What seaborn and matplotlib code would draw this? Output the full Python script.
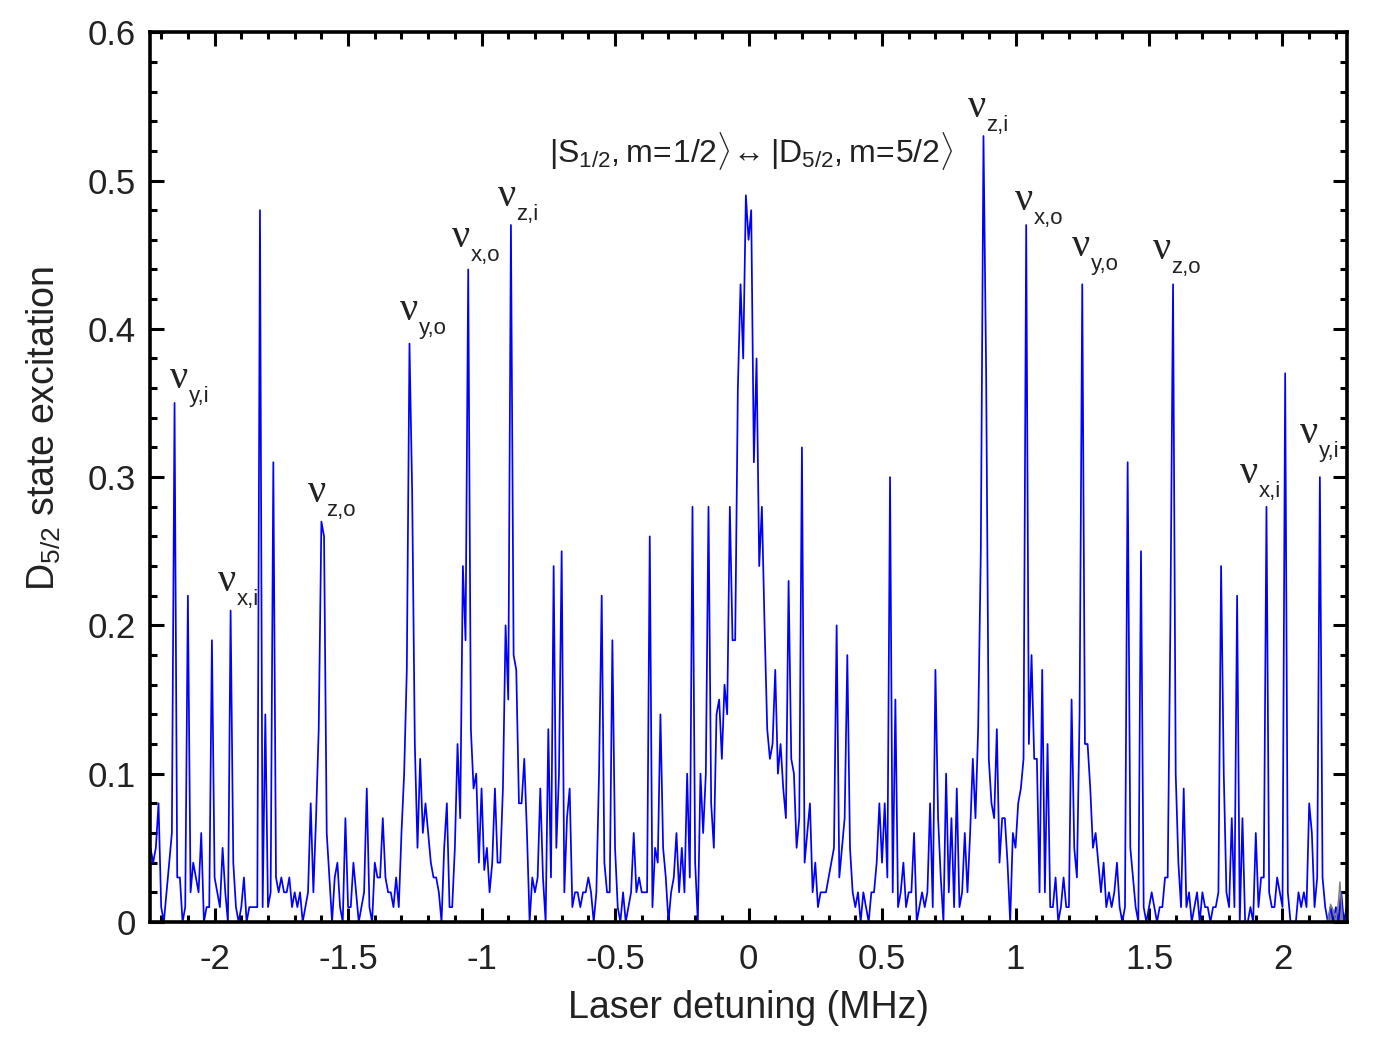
import numpy as np
import pandas as pd
import matplotlib
matplotlib.use("Agg")
import matplotlib.pyplot as plt
import seaborn as sns
from matplotlib.ticker import MultipleLocator, FuncFormatter

# ---------------- data ----------------
det_start, det_stop, n_points = -2.24, 2.24, 449   # laser detuning scan (MHz)
excitation = [
    # -2.24 .. -2.15
    0.05, 0.04, 0.05, 0.08, 0.01, 0.00, 0.02, 0.04, 0.06, 0.35,
    # -2.14 .. -2.05
    0.03, 0.03, 0.00, 0.01, 0.22, 0.02, 0.04, 0.03, 0.02, 0.06,
    # -2.04 .. -1.95
    0.00, 0.01, 0.01, 0.19, 0.03, 0.02, 0.01, 0.05, 0.02, 0.00,
    # -1.94 .. -1.85
    0.21, 0.04, 0.01, 0.00, 0.01, 0.03, 0.00, 0.01, 0.01, 0.01,
    # -1.84 .. -1.75
    0.01, 0.48, 0.01, 0.14, 0.01, 0.02, 0.31, 0.03, 0.02, 0.03,
    # -1.74 .. -1.65
    0.02, 0.02, 0.03, 0.01, 0.02, 0.01, 0.02, 0.00, 0.01, 0.02,
    # -1.64 .. -1.55
    0.08, 0.02, 0.07, 0.13, 0.27, 0.26, 0.06, 0.03, 0.00, 0.03,
    # -1.54 .. -1.45
    0.04, 0.01, 0.00, 0.07, 0.01, 0.01, 0.04, 0.02, 0.00, 0.01,
    # -1.44 .. -1.35
    0.02, 0.09, 0.01, 0.00, 0.04, 0.03, 0.03, 0.07, 0.03, 0.02,
    # -1.34 .. -1.25
    0.02, 0.01, 0.03, 0.01, 0.06, 0.10, 0.17, 0.39, 0.29, 0.12,
    # -1.24 .. -1.15
    0.05, 0.11, 0.06, 0.08, 0.06, 0.04, 0.03, 0.03, 0.02, 0.00,
    # -1.14 .. -1.05
    0.05, 0.08, 0.01, 0.01, 0.05, 0.12, 0.07, 0.24, 0.19, 0.44,
    # -1.04 .. -0.95
    0.13, 0.09, 0.10, 0.04, 0.09, 0.035, 0.05, 0.02, 0.04, 0.09,
    # -0.94 .. -0.85
    0.04, 0.04, 0.09, 0.20, 0.15, 0.47, 0.18, 0.17, 0.08, 0.08,
    # -0.84 .. -0.75
    0.11, 0.06, 0.00, 0.03, 0.02, 0.03, 0.09, 0.03, 0.00, 0.13,
    # -0.74 .. -0.65
    0.03, 0.24, 0.05, 0.10, 0.25, 0.02, 0.07, 0.09, 0.01, 0.02,
    # -0.64 .. -0.55
    0.02, 0.01, 0.02, 0.02, 0.03, 0.02, 0.00, 0.02, 0.10, 0.22,
    # -0.54 .. -0.45
    0.04, 0.02, 0.02, 0.19, 0.05, 0.01, 0.00, 0.02, 0.00, 0.01,
    # -0.44 .. -0.35
    0.02, 0.06, 0.02, 0.03, 0.02, 0.02, 0.02, 0.26, 0.01, 0.05,
    # -0.34 .. -0.25
    0.04, 0.14, 0.05, 0.03, 0.00, 0.02, 0.03, 0.06, 0.02, 0.05,
    # -0.24 .. -0.15
    0.02, 0.10, 0.03, 0.28, 0.04, 0.00, 0.10, 0.06, 0.10, 0.28,
    # -0.14 .. -0.05
    0.08, 0.05, 0.14, 0.15, 0.11, 0.16, 0.14, 0.28, 0.19, 0.19,
    # -0.04 .. 0.05
    0.36, 0.43, 0.38, 0.49, 0.46, 0.48, 0.31, 0.38, 0.24, 0.28,
    # 0.06 .. 0.15
    0.20, 0.13, 0.11, 0.12, 0.17, 0.10, 0.12, 0.09, 0.07, 0.23,
    # 0.16 .. 0.25
    0.11, 0.10, 0.05, 0.07, 0.32, 0.04, 0.06, 0.08, 0.02, 0.04,
    # 0.26 .. 0.35
    0.01, 0.02, 0.02, 0.02, 0.03, 0.04, 0.05, 0.20, 0.03, 0.05,
    # 0.36 .. 0.45
    0.07, 0.18, 0.05, 0.02, 0.01, 0.02, 0.00, 0.02, 0.01, 0.00,
    # 0.46 .. 0.55
    0.02, 0.02, 0.04, 0.08, 0.04, 0.08, 0.03, 0.30, 0.02, 0.15,
    # 0.56 .. 0.65
    0.01, 0.02, 0.04, 0.01, 0.02, 0.02, 0.06, 0.00, 0.01, 0.02,
    # 0.66 .. 0.75
    0.01, 0.02, 0.08, 0.01, 0.17, 0.07, 0.03, 0.00, 0.10, 0.02,
    # 0.76 .. 0.85
    0.07, 0.01, 0.09, 0.01, 0.02, 0.06, 0.02, 0.06, 0.11, 0.07,
    # 0.86 .. 0.95
    0.13, 0.25, 0.53, 0.37, 0.11, 0.08, 0.07, 0.13, 0.04, 0.07,
    # 0.96 .. 1.05
    0.07, 0.04, 0.00, 0.06, 0.05, 0.08, 0.09, 0.11, 0.47, 0.12,
    # 1.06 .. 1.15
    0.18, 0.11, 0.11, 0.02, 0.17, 0.02, 0.12, 0.01, 0.01, 0.03,
    # 1.16 .. 1.25
    0.00, 0.01, 0.03, 0.01, 0.01, 0.15, 0.05, 0.03, 0.14, 0.43,
    # 1.26 .. 1.35
    0.12, 0.12, 0.09, 0.05, 0.06, 0.04, 0.02, 0.04, 0.01, 0.02,
    # 1.36 .. 1.45
    0.01, 0.02, 0.04, 0.01, 0.00, 0.01, 0.31, 0.05, 0.03, 0.01,
    # 1.46 .. 1.55
    0.00, 0.25, 0.01, 0.00, 0.01, 0.02, 0.01, 0.00, 0.01, 0.01,
    # 1.56 .. 1.65
    0.03, 0.03, 0.20, 0.43, 0.10, 0.04, 0.01, 0.09, 0.01, 0.02,
    # 1.66 .. 1.75
    0.00, 0.01, 0.02, 0.00, 0.02, 0.01, 0.01, 0.00, 0.01, 0.01,
    # 1.76 .. 1.85
    0.02, 0.24, 0.10, 0.02, 0.01, 0.07, 0.01, 0.22, 0.00, 0.07,
    # 1.86 .. 1.95
    0.00, 0.00, 0.01, 0.00, 0.06, 0.01, 0.03, 0.03, 0.28, 0.02,
    # 1.96 .. 2.05
    0.01, 0.01, 0.03, 0.02, 0.01, 0.37, 0.02, 0.00, 0.00, 0.00,
    # 2.06 .. 2.15
    0.02, 0.01, 0.02, 0.01, 0.08, 0.06, 0.01, 0.03, 0.30, 0.03,
    # 2.16 .. 2.24
    0.01, 0.00, 0.01, 0.00, 0.01, 0.00, 0.02, 0.00, 0.01,
]
detuning = np.linspace(det_start, det_stop, n_points)

# small grey trace at the right edge
grey_detuning = [2.17, 2.18, 2.19, 2.20, 2.21, 2.215, 2.225]
grey_excitation = [0.0, 0.012, 0.008, 0.0, 0.015, 0.027, 0.0]

x_ticks = [-2, -1.5, -1, -0.5, 0, 0.5, 1, 1.5, 2]
y_ticks = [0, 0.1, 0.2, 0.3, 0.4, 0.5, 0.6]

sideband_labels = ["y,i", "x,i", "z,o", "y,o", "x,o", "z,i",
                   "z,i", "x,o", "y,o", "z,o", "x,i", "y,i"]
carrier_label = (r"$|\mathrm{S}_{1/2}\mathrm{,m\!=\!1/2}\rangle\!\leftrightarrow"
                 r"|\mathrm{D}_{5/2}\mathrm{,m\!=\!5/2}\rangle$")

# label anchor points (baseline-left of the nu glyph), in data coordinates
label_pos_x = [-2.168, -1.989, -1.652, -1.307, -1.112, -0.940,
               0.820, 0.996, 1.210, 1.513, 1.839, 2.064]
label_pos_y = [0.360, 0.223, 0.283, 0.406, 0.455, 0.483,
               0.543, 0.480, 0.449, 0.447, 0.296, 0.323]

# ---------------- style ----------------
sns.set_style("ticks")
plt.rcParams["font.family"] = ["Liberation Sans", "DejaVu Sans"]
plt.rcParams["mathtext.fontset"] = "custom"
plt.rcParams["mathtext.rm"] = "Liberation Sans"
plt.rcParams["mathtext.it"] = "Liberation Sans:italic"
plt.rcParams["mathtext.bf"] = "Liberation Sans:bold"
plt.rcParams["axes.unicode_minus"] = False

df = pd.DataFrame({"detuning": detuning, "excitation": excitation})
df_grey = pd.DataFrame({"detuning": grey_detuning, "excitation": grey_excitation})

fig = plt.figure(figsize=(13.76, 10.40), dpi=100)
ax = fig.add_axes([0.109, 0.1135, 0.870, 0.8555])

sns.lineplot(data=df, x="detuning", y="excitation", ax=ax, color="#0000ff",
             linewidth=1.25, estimator=None, sort=False)
sns.lineplot(data=df_grey, x="detuning", y="excitation", ax=ax, color="#808080",
             linewidth=1.0, estimator=None, sort=False)
ax.fill_between(df_grey["detuning"], df_grey["excitation"], color="#808080",
                linewidth=0)

ax.set_xlim(-2.242, 2.242)
ax.set_ylim(0, 0.6)
ax.set_xticks(x_ticks)
ax.set_yticks(y_ticks)
ax.xaxis.set_minor_locator(MultipleLocator(0.1))
ax.yaxis.set_minor_locator(MultipleLocator(0.02))
fmt = FuncFormatter(lambda v, p: f"{v:g}")
ax.xaxis.set_major_formatter(fmt)
ax.yaxis.set_major_formatter(fmt)

ax.tick_params(which="both", direction="in", top=True, right=True,
               width=2.2, color="black")
ax.tick_params(which="major", length=10, labelsize=25, labelcolor="#222222")
ax.tick_params(axis="x", which="major", pad=15)
ax.tick_params(axis="y", which="major", pad=10)
ax.tick_params(which="minor", length=5)
for sp in ax.spines.values():
    sp.set_linewidth(2.6)
    sp.set_color("black")

ax.set_xlabel("Laser detuning (MHz)", fontsize=27, color="#222222", labelpad=10)
ax.set_ylabel(r"$\mathrm{D}_{5/2}$ state excitation", fontsize=27,
              color="#222222")
ax.yaxis.set_label_coords(-0.073, 0.555)

# sideband labels: nu with a sans-serif subscript
for sub, lx, ly in zip(sideband_labels, label_pos_x, label_pos_y):
    t = ax.text(lx, ly, "\u03bd", fontsize=29, family="Liberation Serif",
                ha="left", va="baseline", color="#222222")
    ax.annotate(sub, xy=(1, 0), xycoords=t, xytext=(0.5, -3.5),
                textcoords="offset points", fontsize=16, ha="left",
                va="baseline", color="#222222")

ax.text(0.012, 0.512, carrier_label, fontsize=23, ha="center",
        va="baseline", color="#222222")

fig.savefig("out.png", dpi=100)
